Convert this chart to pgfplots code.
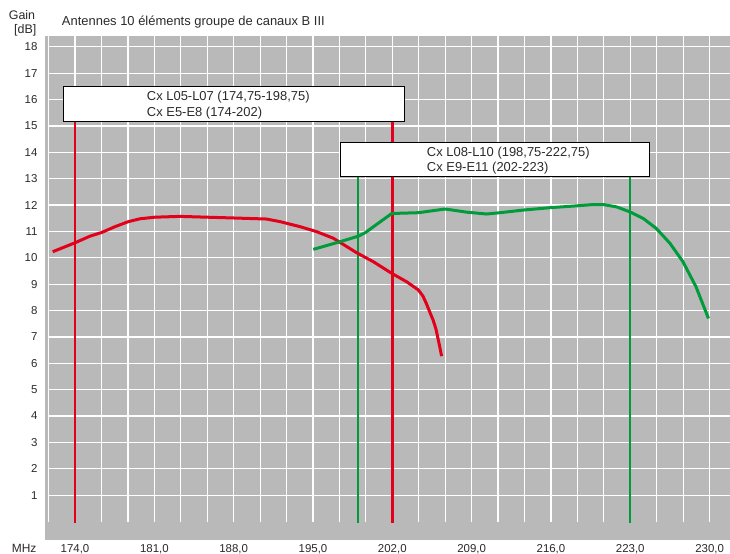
\documentclass[border=0pt]{standalone}
\usepackage{fontspec}
\setmainfont{Liberation Sans}
\usepackage{pgfplots}
\pgfplotsset{compat=1.18}
\definecolor{bg}{HTML}{B9B9B9}
\definecolor{cred}{HTML}{E2001A}
\definecolor{cgreen}{HTML}{009B3A}
\definecolor{txt}{HTML}{2A2A2A}
\begin{document}
\begin{tikzpicture}
\begin{axis}[name=ax, scale only axis, width=685bp, height=504bp,
  xmin=171.35, xmax=231.8, ymin=-0.70, ymax=18.41,
  axis line style={draw=none}, major tick length=0, minor tick length=0,
  axis background/.style={fill=bg},
  xtick={174,181,188,195,202,209,216,223,230},
  xticklabels={{174,0},{181,0},{188,0},{195,0},{202,0},{209,0},{216,0},{223,0},{230,0}},
  ytick={1,2,...,18},
  clip=false,
  /pgf/number format/assume math mode=true,
  ticklabel style={font=\fontsize{11.5}{13}\selectfont, color=txt},
  xticklabel style={anchor=base, yshift=-12.7bp},
  yticklabel style={xshift=-4bp},
]
% grid
\pgfplotsinvokeforeach{171.667,174,176.333,178.667,181,183.333,185.667,188,190.333,192.667,195,197.333,199.667,202,204.333,206.667,209,211.333,213.667,216,218.333,220.667,223,225.333,227.667,230}{
  \draw[white, line width=1.2bp] (axis cs:#1,0) -- (axis cs:#1,18.41);
}
\pgfplotsinvokeforeach{1,2,...,18}{
  \draw[white, line width=1.2bp] (axis cs:171.6,#1) -- (axis cs:231.8,#1);
}
% vertical band lines
\addplot[cred, line width=2.4bp] coordinates {(174,-0.05) (174,16)};
\addplot[cred, line width=2.4bp] coordinates {(202,-0.05) (202,16)};
\addplot[cgreen, line width=2.4bp] coordinates {(198.95,-0.05) (198.95,13.5)};
\addplot[cgreen, line width=2.4bp] coordinates {(223,-0.05) (223,13.5)};
% boxes
\draw[black, line width=0.8bp, fill=white] (axis cs:172.94,15.18) rectangle (axis cs:203.1,16.51);
\draw[black, line width=0.8bp, fill=white] (axis cs:197.4,13.1) rectangle (axis cs:224.66,14.39);
\node[anchor=base west, font=\fontsize{13}{15}\selectfont, text=txt, inner sep=0] at (axis cs:180.33,15.95) {Cx L05-L07 (174,75-198,75)};
\node[anchor=base west, font=\fontsize{13}{15}\selectfont, text=txt, inner sep=0] at (axis cs:180.33,15.35) {Cx E5-E8 (174-202)};
\node[anchor=base west, font=\fontsize{13}{15}\selectfont, text=txt, inner sep=0] at (axis cs:205.04,13.83) {Cx L08-L10 (198,75-222,75)};
\node[anchor=base west, font=\fontsize{13}{15}\selectfont, text=txt, inner sep=0] at (axis cs:205.04,13.29) {Cx E9-E11 (202-223)};
% curves
\addplot[cred, line width=3bp, line join=round, line cap=butt] coordinates {
(172.03,10.23) (174,10.57) (175.32,10.82) (176.35,10.96) (177.53,11.18) (178.7,11.37)
(179.74,11.48) (181.06,11.54) (183.27,11.57) (185.6,11.54) (187.97,11.51) (190.9,11.47)
(192.1,11.37) (193.86,11.18) (195.33,10.99) (196.8,10.74) (198.86,10.19) (200.33,9.85)
(201.95,9.41) (203.27,9.09) (204.3,8.78) (204.7,8.55) (205.0,8.27) (205.3,7.95) (205.6,7.64) (205.85,7.3) (206.0,7.0) (206.2,6.6) (206.35,6.27)
};
\addplot[cgreen, line width=3bp, line join=round, line cap=butt] coordinates {
(195.03,10.32) (197.39,10.61) (199.0,10.82) (199.6,10.95) (201.95,11.68) (204.3,11.71)
(206.66,11.85) (208.57,11.73) (210.33,11.66) (211.5,11.71) (213.57,11.81) (215.92,11.9)
(218.28,11.97) (219.75,12.02) (220.6,12.02) (221.8,11.93) (222.97,11.74) (224.15,11.49)
(225.3,11.11) (226.5,10.55) (227.65,9.85) (228.8,8.9) (229.9,7.7)
};
% texts outside
\node[anchor=base west, font=\fontsize{13}{15}\selectfont, text=txt, inner sep=0] at (axis cs:172.83,18.82) {Antennes 10 éléments groupe de canaux B III};
\node[anchor=base east, font=\fontsize{12.5}{14}\selectfont, text=txt, inner sep=0] at (axis cs:170.5,19.03) {Gain};
\node[anchor=base east, font=\fontsize{12.5}{14}\selectfont, text=txt, inner sep=0] at (axis cs:170.6,18.51) {[dB]};
\node[anchor=base west, font=\fontsize{12}{14}\selectfont, text=txt, inner sep=0] at (axis cs:168.41,-1.19) {MHz};
\end{axis}
\pgfresetboundingbox
\path[use as bounding box] ([xshift=-45bp,yshift=-14bp]ax.south west) rectangle ([yshift=36bp]ax.north east);
\end{tikzpicture}
\end{document}
